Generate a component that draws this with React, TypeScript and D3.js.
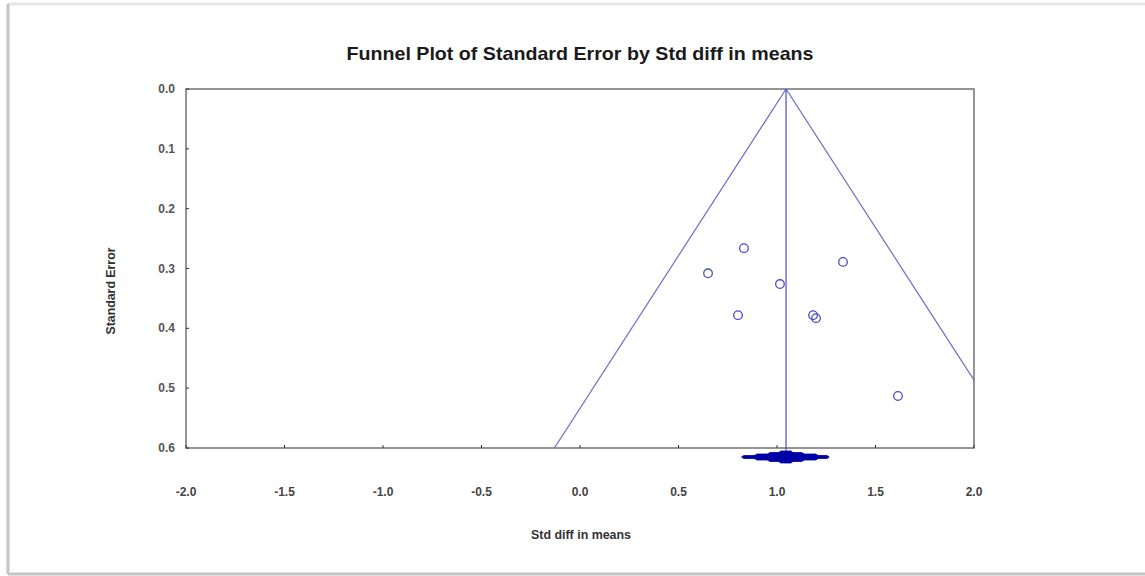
import React from "react";
import * as d3 from "d3";

const title = "Funnel Plot of Standard Error by Std diff in means";
const xLabel = "Std diff in means";
const yLabel = "Standard Error";
const xTicks = [-2.0, -1.5, -1.0, -0.5, 0.0, 0.5, 1.0, 1.5, 2.0];
const yTicks = [0.0, 0.1, 0.2, 0.3, 0.4, 0.5, 0.6];
const studyEffect = [0.832, 0.65, 1.015, 1.335, 0.802, 1.183, 1.198, 1.614];
const studySE = [0.266, 0.308, 0.326, 0.289, 0.378, 0.378, 0.383, 0.513];
const pooledEffect = 1.046;
const funnelZ = 1.96;
// nested intervals of the summary spindle at the bottom
const spindleLo = [0.82, 0.875, 0.93, 0.99];
const spindleHi = [1.265, 1.22, 1.16, 1.1];

export default function App() {
  const W = 1145, H = 576;
  const left = 186, right = 974, top = 89, bottom = 448;
  const x = d3.scaleLinear().domain([-2, 2]).range([left, right]);
  const y = d3.scaleLinear().domain([0, 0.6]).range([top, bottom]);
  const seMax = 0.6;

  const clip = "plotClip";
  const leftLine = [
    [pooledEffect, 0],
    [pooledEffect - funnelZ * seMax, seMax],
  ];
  const rightLine = [
    [pooledEffect, 0],
    [pooledEffect + funnelZ * seMax, seMax],
  ];
  const line = d3
    .line<number[]>()
    .x((d) => x(d[0]))
    .y((d) => y(d[1]));

  const lineColor = "#6b6bd0";
  const fontFam = "'Liberation Sans', Arial, sans-serif";
  const spindleY = 457;
  const halfH = [1.5, 3, 4.5, 6];

  return (
    <svg
      width={W}
      height={H}
      style={{ position: "absolute", left: 0, top: 0, background: "#fff" }}
    >
      <rect x={0} y={0} width={W} height={H} fill="#fff" />
      <line x1={8} y1={4} x2={W} y2={4} stroke="#e6e6e6" strokeWidth={3} />
      <line x1={8} y1={4} x2={8} y2={574} stroke="#c4c4c4" strokeWidth={3} />
      <line x1={8} y1={574} x2={W} y2={574} stroke="#c4c4c4" strokeWidth={3} />

      <text
        x={580}
        y={60}
        textAnchor="middle"
        fontFamily={fontFam}
        fontWeight="bold"
        fontSize={19}
        textLength={467}
        lengthAdjust="spacingAndGlyphs"
        fill="#1a1a1a"
      >
        {title}
      </text>

      <defs>
        <clipPath id={clip}>
          <rect x={left} y={top} width={right - left} height={bottom - top} />
        </clipPath>
      </defs>

      <rect
        x={left}
        y={top}
        width={right - left}
        height={bottom - top}
        fill="none"
        stroke="#7a7a7a"
        strokeWidth={1.6}
      />

      {yTicks.map((t) => (
        <g key={"y" + t}>
          <line x1={left} x2={left + 3} y1={y(t)} y2={y(t)} stroke="#333" strokeWidth={1} />
          <text
            x={left - 11}
            y={y(t) + 4}
            textAnchor="end"
            fontFamily={fontFam}
            fontWeight="bold"
            fontSize={12}
            fill="#555"
          >
            {t.toFixed(1)}
          </text>
        </g>
      ))}
      {xTicks.map((t) => (
        <g key={"x" + t}>
          <line x1={x(t)} x2={x(t)} y1={bottom} y2={bottom - 3} stroke="#333" strokeWidth={1} />
          <text
            x={x(t)}
            y={496}
            textAnchor="middle"
            fontFamily={fontFam}
            fontWeight="bold"
            fontSize={12}
            fill="#444"
          >
            {t.toFixed(1)}
          </text>
        </g>
      ))}

      <text
        x={581}
        y={539}
        textAnchor="middle"
        fontFamily={fontFam}
        fontWeight="bold"
        fontSize={12}
        textLength={100}
        lengthAdjust="spacingAndGlyphs"
        fill="#333"
      >
        {xLabel}
      </text>
      <text
        transform={`translate(115,${291}) rotate(-90)`}
        textAnchor="middle"
        fontFamily={fontFam}
        fontWeight="bold"
        fontSize={12}
        textLength={87}
        lengthAdjust="spacingAndGlyphs"
        fill="#333"
      >
        {yLabel}
      </text>

      <g clipPath={`url(#${clip})`}>
        <path d={line(leftLine) || ""} stroke={lineColor} strokeWidth={1.2} fill="none" />
        <path d={line(rightLine) || ""} stroke={lineColor} strokeWidth={1.2} fill="none" />
      </g>
      <line
        x1={x(pooledEffect)}
        x2={x(pooledEffect)}
        y1={y(0)}
        y2={spindleY}
        stroke="#4a4ac8"
        strokeWidth={1.2}
      />

      {studyEffect.map((e, i) => (
        <circle
          key={i}
          cx={x(e)}
          cy={y(studySE[i])}
          r={4.3}
          fill="none"
          stroke="#4c4cc4"
          strokeWidth={1.3}
        />
      ))}

      {spindleLo.map((lo, i) => {
        const x0 = x(lo), x1 = x(spindleHi[i]);
        const h = halfH[i];
        const taper = Math.min(h * 1.5, (x1 - x0) / 4);
        const pts = [
          [x0, spindleY],
          [x0 + taper, spindleY - h],
          [x1 - taper, spindleY - h],
          [x1, spindleY],
          [x1 - taper, spindleY + h],
          [x0 + taper, spindleY + h],
        ];
        return (
          <polygon
            key={"s" + i}
            points={pts.map((p) => p.join(",")).join(" ")}
            fill="#0000a8"
            stroke="#0000a8"
            strokeWidth={0.8}
          />
        );
      })}
    </svg>
  );
}
